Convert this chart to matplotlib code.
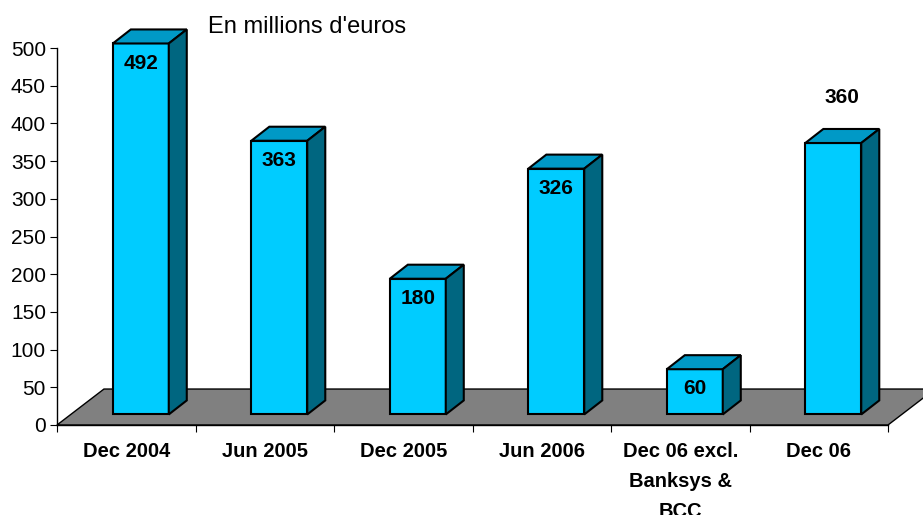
import numpy as np
import matplotlib.pyplot as plt
from matplotlib.patches import Polygon

plt.rcParams['font.family'] = ['Liberation Sans', 'DejaVu Sans']

# data
categories = ['Dec 2004', 'Jun 2005', 'Dec 2005', 'Jun 2006',
              'Dec 06 excl.\nBanksys &\nBCC', 'Dec 06']
values = [492, 363, 180, 326, 60, 360]
label_above = [False, False, False, False, False, True]

front_col = '#00CCFF'
top_col = '#0099C6'
side_col = '#006680'
floor_col = '#808080'

fig = plt.figure(figsize=(9.23, 5.15), dpi=100)
ax = fig.add_axes([57/923, 90/515, (888-57)/923, (425-48)/515])
ax.set_xlim(0, 6)
ax.set_ylim(0, 500)

# 3d offsets (data units)
fdx, fdy = 0.339, 47.7     # floor depth
bdx, bdy = 0.13, 18.6      # bar depth
shift_x, base = 0.105, 14  # bar front face position on floor
bw = 0.404                 # bar width

floor = Polygon([(0, 0), (6, 0), (6+fdx, fdy), (fdx, fdy)], closed=True,
                facecolor=floor_col, edgecolor='black', lw=1, zorder=1, clip_on=False)
ax.add_patch(floor)

for i, v in enumerate(values):
    x0 = i + 0.5 + shift_x - bw/2
    x1 = x0 + bw
    top = base + v
    front = Polygon([(x0, base), (x1, base), (x1, top), (x0, top)],
                    facecolor=front_col, edgecolor='black', lw=1.5, zorder=3, clip_on=False)
    topf = Polygon([(x0, top), (x1, top), (x1+bdx, top+bdy), (x0+bdx, top+bdy)],
                   facecolor=top_col, edgecolor='black', lw=1.5, zorder=3, clip_on=False)
    side = Polygon([(x1, base), (x1+bdx, base+bdy), (x1+bdx, top+bdy), (x1, top)],
                   facecolor=side_col, edgecolor='black', lw=1.5, zorder=3, clip_on=False)
    for p in (front, topf, side):
        ax.add_patch(p)
    if label_above[i]:
        ax.text((x0+x1)/2 + bdx/2, top + 60, str(v), ha='center', va='center',
                fontsize=15, fontweight='bold', zorder=4)
    else:
        ax.text((x0+x1)/2, top - 26, str(v), ha='center', va='center',
                fontsize=15, fontweight='bold', zorder=4)

# category labels
for i, c in enumerate(categories):
    ax.text(i + 0.5, -22, c, ha='center', va='top', fontsize=14.5,
            fontweight='bold', linespacing=1.75, clip_on=False)

ax.set_yticks(np.arange(0, 501, 50))
ax.set_xticks(np.arange(0, 7))
ax.set_xticklabels([])
ax.tick_params(axis='y', direction='out', length=5, pad=3, labelsize=15)
ax.tick_params(axis='x', direction='out', length=5)
for s in ['top', 'right']:
    ax.spines[s].set_visible(False)
for s in ['left', 'bottom']:
    ax.spines[s].set_linewidth(1)
    ax.spines[s].set_zorder(2.5)
ax.patch.set_alpha(0)

fig.text(208/923, 1 - 27/515, "En millions d'euros", ha='left', va='center', fontsize=17)

fig.savefig('out.png', dpi=100)
